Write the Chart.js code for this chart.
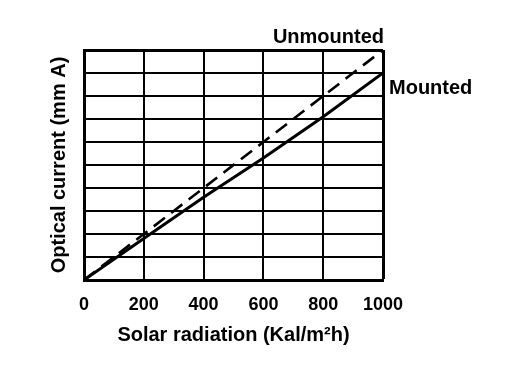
<!DOCTYPE html>
<html>
<head>
<meta charset="utf-8">
<script src="https://cdn.jsdelivr.net/npm/chart.js@4/dist/chart.umd.min.js"></script>
<style>
  html, body { margin: 0; padding: 0; background: #fff; }
  #c { display: block; }
</style>
</head>
<body>
<canvas id="c" width="512" height="382"></canvas>
<script>
// Data
const radiation = [0, 200, 400, 600, 800, 1000];           // Kal/m²h
const unmounted = [0, 2.0, 4.0, 6.0, 8.0, 10.0];           // grid units
const mounted   = [0, 1.8, 3.6, 5.3, 7.1, 9.0];            // grid units
const xTitle = 'Solar radiation (Kal/m²h)';
const yTitle = 'Optical current (mm A)';
const seriesNames = ['Unmounted', 'Mounted'];

const FONT = '"Liberation Sans", Arial, Helvetica, sans-serif';

const labelPlugin = {
  id: 'seriesLabels',
  afterDatasetsDraw(chart) {
    const {ctx, scales: {x, y}} = chart;
    ctx.save();
    ctx.fillStyle = '#000';
    ctx.font = 'bold 20px ' + FONT;
    ctx.textBaseline = 'middle';
    // Unmounted: above the end of the dashed line
    ctx.textAlign = 'right';
    ctx.fillText(seriesNames[0], x.getPixelForValue(radiation[radiation.length - 1]) + 1,
                 y.getPixelForValue(unmounted[unmounted.length - 1]) - 13);
    // Mounted: right of the end of the solid line
    ctx.textAlign = 'left';
    ctx.fillText(seriesNames[1], x.getPixelForValue(radiation[radiation.length - 1]) + 6,
                 y.getPixelForValue(mounted[mounted.length - 1]) + 15);
    ctx.restore();
  }
};

const bgPlugin = {
  id: 'bg',
  beforeDraw(chart) {
    const ctx = chart.ctx;
    ctx.save();
    ctx.fillStyle = '#fff';
    ctx.fillRect(0, 0, chart.width, chart.height);
    ctx.restore();
  }
};

new Chart(document.getElementById('c'), {
  type: 'line',
  data: {
    datasets: [
      {
        label: seriesNames[0],
        data: radiation.map((v, i) => ({x: v, y: unmounted[i]})),
        borderColor: '#000',
        borderWidth: 2.6,
        borderDash: [14, 8],
        pointRadius: 0,
        fill: false,
        tension: 0
      },
      {
        label: seriesNames[1],
        data: radiation.map((v, i) => ({x: v, y: mounted[i]})),
        borderColor: '#000',
        borderWidth: 3,
        pointRadius: 0,
        fill: false,
        tension: 0
      }
    ]
  },
  options: {
    responsive: false,
    devicePixelRatio: 1,
    animation: false,
    layout: { padding: { left: 0, right: 129, top: 50, bottom: 0 } },
    plugins: {
      legend: { display: false },
      tooltip: { enabled: false }
    },
    scales: {
      x: {
        type: 'linear',
        min: 0,
        max: 1000,
        ticks: {
          stepSize: 200,
          color: '#000',
          font: { family: FONT, size: 18, weight: 'bold' },
          padding: 14,
          maxRotation: 0,
          callback: (v) => String(v)
        },
        grid: {
          color: '#000',
          lineWidth: (c) => (c.tick && c.tick.value === 1000 ? 3 : 2),
          drawTicks: false
        },
        border: { display: true, color: '#000', width: 3 },
        title: {
          display: true,
          text: xTitle,
          color: '#000',
          font: { family: FONT, size: 20, weight: 'bold' },
          padding: { top: 0, bottom: 35 }
        },
        afterFit(scale) { scale.height = 102; }
      },
      y: {
        type: 'linear',
        min: 0,
        max: 10,
        ticks: { display: false, stepSize: 1 },
        grid: {
          color: '#000',
          lineWidth: (c) => (c.tick && c.tick.value === 10 ? 3 : 2),
          drawTicks: false
        },
        border: { display: true, color: '#000', width: 3 },
        title: {
          display: true,
          text: yTitle,
          color: '#000',
          font: { family: FONT, size: 20, weight: 'bold' },
          padding: { top: 47, bottom: 0 }
        },
        afterFit(scale) { scale.width = 84; }
      }
    }
  },
  plugins: [bgPlugin, labelPlugin]
});
</script>
</body>
</html>
